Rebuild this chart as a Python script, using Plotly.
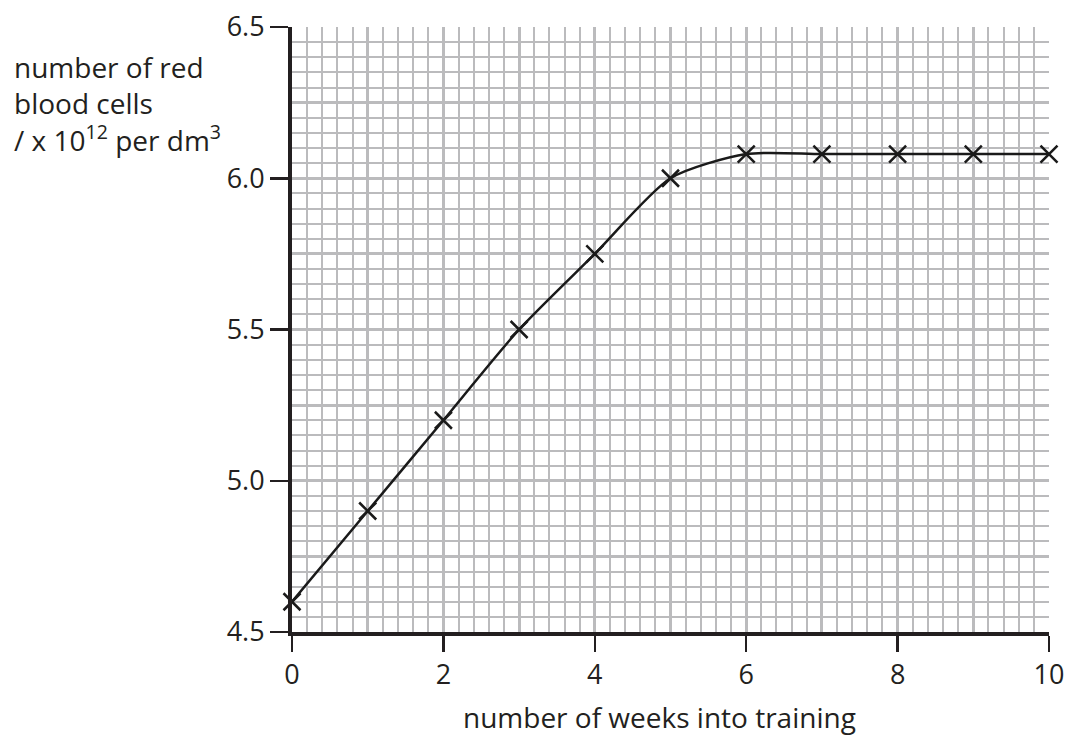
import plotly.graph_objects as go

weeks = [0, 1, 2, 3, 4, 5, 6, 7, 8, 9, 10]
red_cells = [4.60, 4.90, 5.20, 5.50, 5.75, 6.00, 6.08, 6.08, 6.08, 6.08, 6.08]
x_tick_vals = [0, 2, 4, 6, 8, 10]
y_tick_vals = [4.5, 5.0, 5.5, 6.0, 6.5]

FONT = "Open Sans"
GRID = "#bbbbbd"
INK = "#231f20"

fig = go.Figure()
fig.add_trace(go.Scatter(
    x=weeks, y=red_cells, mode="lines+markers",
    line=dict(color="#1a1a1a", width=2.5, shape="spline", smoothing=0.7),
    marker=dict(symbol="x-thin", size=17, line=dict(color="#1a1a1a", width=2.5)),
    cliponaxis=False, showlegend=False, hoverinfo="skip",
    xaxis="x", yaxis="y",
))
# invisible trace to carry the overlay axes (ticks / labels / axis lines)
fig.add_trace(go.Scatter(
    x=weeks, y=red_cells, mode="markers", marker=dict(opacity=0),
    showlegend=False, hoverinfo="skip", xaxis="x2", yaxis="y2",
))

fig.update_layout(
    template="none",
    width=1066, height=737,
    margin=dict(l=292, r=17, t=27, b=105, autoexpand=False),
    paper_bgcolor="white", plot_bgcolor="white",
    font=dict(family=FONT, size=27, color=INK),
    xaxis=dict(
        range=[0, 10], dtick=1, tick0=0, showgrid=True, gridcolor=GRID, gridwidth=3,
        minor=dict(dtick=0.2, tick0=0, showgrid=True, gridcolor=GRID, gridwidth=2),
        showticklabels=False, ticks="", zeroline=False, showline=False, automargin=False,
    ),
    yaxis=dict(
        range=[4.5, 6.5], dtick=0.25, tick0=4.5, showgrid=True, gridcolor=GRID, gridwidth=3,
        minor=dict(dtick=0.05, tick0=4.5, showgrid=True, gridcolor=GRID, gridwidth=2),
        showticklabels=False, ticks="", zeroline=False, showline=False, automargin=False,
    ),
    xaxis2=dict(
        overlaying="x", matches="x", range=[0, 10], tickvals=x_tick_vals, side="bottom",
        showgrid=False, zeroline=False, showline=True, linecolor=INK, linewidth=4,
        ticks="outside", ticklen=16, tickwidth=2.5, tickcolor=INK, automargin=False,
        tickfont=dict(size=27, family=FONT, color=INK),
    ),
    yaxis2=dict(
        overlaying="y", matches="y", range=[4.5, 6.5], tickvals=y_tick_vals, side="left",
        tickformat=".1f", automargin=False,
        showgrid=False, zeroline=False, showline=True, linecolor=INK, linewidth=4,
        ticks="outside", ticklen=18, tickwidth=2.5, tickcolor=INK,
        tickfont=dict(size=27, family=FONT, color=INK),
    ),
    annotations=[
        dict(text="number of weeks into training", xref="paper", yref="paper",
             x=0.485, y=-0.14, xanchor="center", yanchor="middle", showarrow=False,
             font=dict(size=28, family=FONT, color=INK)),
        dict(text="number of red<br>blood cells<br>/ x 10<sup>12</sup> per dm<sup>3</sup>",
             xref="paper", yref="paper", x=-0.37, y=0.968, xanchor="left", yanchor="top",
             align="left", showarrow=False,
             font=dict(size=28, family=FONT, color=INK)),
    ],
)

fig.write_html(
    "out.html",
    config={"displayModeBar": False, "staticPlot": True},
    post_script="document.body.style.margin='0';document.body.style.overflow='hidden';",
)
